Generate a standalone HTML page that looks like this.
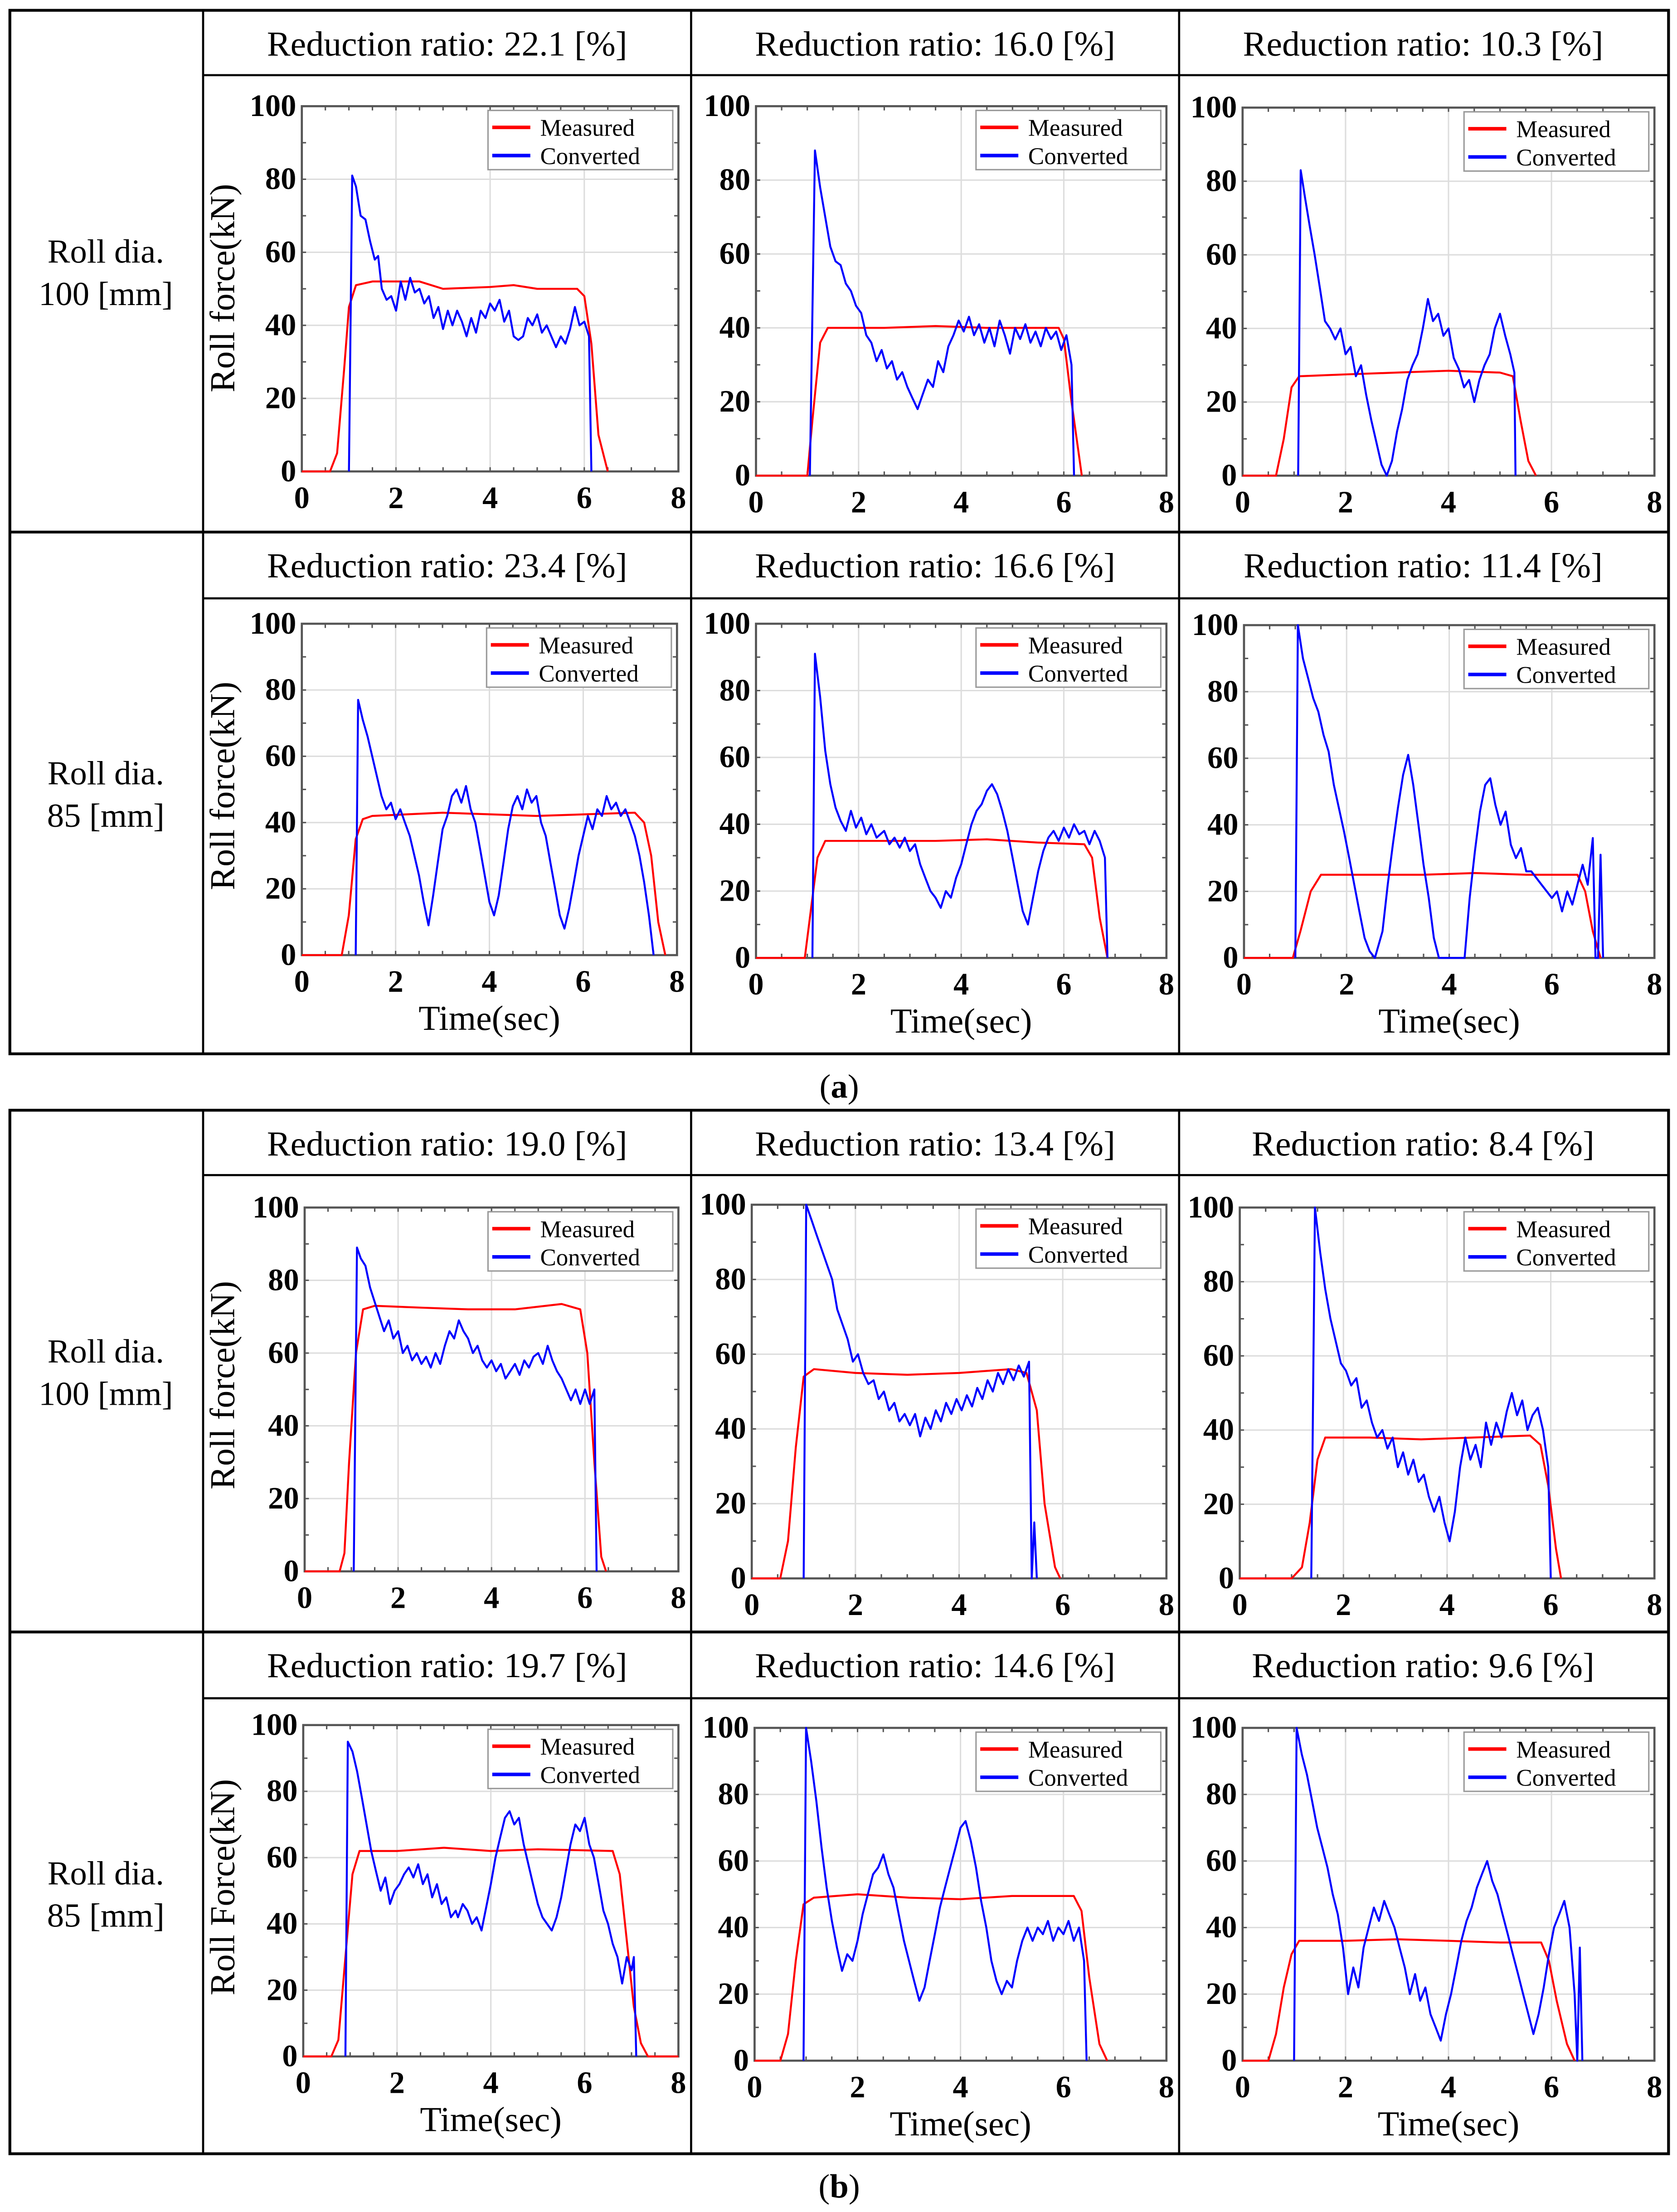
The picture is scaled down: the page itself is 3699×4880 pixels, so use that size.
<!DOCTYPE html>
<html><head><meta charset="utf-8">
<style>
html,body{margin:0;padding:0;background:#fff;}
svg{display:block;}
text{font-family:"Liberation Serif",serif;}
</style></head>
<body>
<svg id="fig" width="3699" height="4880" viewBox="0 0 1189 1568" xmlns="http://www.w3.org/2000/svg"></svg>
<script>
// ---- data: [time(sec), force(kN)] ----
const measuredA11=[[0,0],[0.6,0],[0.75,5],[0.9,28],[1.0,45],[1.15,51],[1.5,52],[2.5,52],[3.0,50],[4.0,50.5],[4.5,51],[5.0,50],[5.85,50],[6.0,48],[6.15,35],[6.3,10],[6.5,0]];
const convertedA11=[[1.0,0],[1.07,81],[1.15,78],[1.25,70],[1.35,69],[1.45,63],[1.55,58],[1.62,59],[1.7,50],[1.8,47],[1.9,48],[2.0,44],[2.1,52],[2.2,47],[2.3,53],[2.4,49],[2.5,50],[2.6,46],[2.7,48],[2.8,42],[2.9,45],[3.0,39],[3.1,44],[3.2,40],[3.3,44],[3.4,41],[3.5,37],[3.6,42],[3.7,38],[3.8,44],[3.9,42],[4.0,46],[4.1,44],[4.2,47],[4.3,41],[4.4,44],[4.5,37],[4.6,36],[4.7,37],[4.8,42],[4.9,40],[5.0,43],[5.1,38],[5.2,40],[5.3,37],[5.4,34],[5.5,37],[5.6,35],[5.7,39],[5.8,45],[5.9,40],[6.0,41],[6.1,37],[6.15,0]];
const measuredA12=[[0,0],[1.0,0],[1.1,15],[1.25,36],[1.4,40],[2.5,40],[3.5,40.5],[4.5,40],[5.5,40],[5.9,40],[6.0,37],[6.15,20],[6.35,0]];
const convertedA12=[[1.05,0],[1.15,88],[1.25,78],[1.35,70],[1.45,62],[1.55,58],[1.65,57],[1.75,52],[1.85,50],[1.95,46],[2.05,44],[2.15,38],[2.25,36],[2.35,31],[2.45,34],[2.55,29],[2.65,31],[2.75,26],[2.85,28],[2.95,24],[3.05,21],[3.15,18],[3.25,22],[3.35,26],[3.45,24],[3.55,31],[3.65,28],[3.75,35],[3.85,38],[3.95,42],[4.05,39],[4.15,43],[4.25,38],[4.35,41],[4.45,36],[4.55,40],[4.65,35],[4.75,42],[4.85,38],[4.95,33],[5.05,40],[5.15,37],[5.25,41],[5.35,36],[5.45,39],[5.55,35],[5.65,40],[5.75,37],[5.85,39],[5.95,34],[6.05,38],[6.15,30],[6.2,0]];
const measuredA13=[[0,0],[0.65,0],[0.8,10],[0.95,24],[1.1,27],[2,27.5],[3,28],[4,28.5],[5,28],[5.25,27],[5.4,15],[5.55,4],[5.7,0]];
const convertedA13=[[1.08,0],[1.13,83],[1.22,75],[1.3,68],[1.4,60],[1.5,51],[1.6,42],[1.7,40],[1.8,37],[1.9,40],[2.0,33],[2.1,35],[2.2,27],[2.3,30],[2.4,22],[2.5,15],[2.6,9],[2.7,3],[2.8,0],[2.9,4],[3.0,12],[3.1,18],[3.2,26],[3.3,30],[3.4,33],[3.5,40],[3.6,48],[3.7,42],[3.8,44],[3.9,38],[4.0,40],[4.1,32],[4.2,29],[4.3,24],[4.4,26],[4.5,20],[4.6,26],[4.7,30],[4.8,33],[4.9,40],[5.0,44],[5.1,38],[5.2,33],[5.28,28],[5.3,0]];
const measuredA21=[[0,0],[0.85,0],[1.0,12],[1.15,35],[1.3,41],[1.5,42],[3,43],[5,42],[7.1,43],[7.3,40],[7.45,30],[7.6,10],[7.75,0]];
const convertedA21=[[1.15,0],[1.2,77],[1.3,71],[1.4,66],[1.5,60],[1.6,54],[1.7,48],[1.8,44],[1.9,46],[2.0,41],[2.1,44],[2.2,40],[2.3,36],[2.4,30],[2.5,24],[2.6,16],[2.7,9],[2.8,18],[2.9,28],[3.0,38],[3.1,42],[3.2,48],[3.3,50],[3.4,46],[3.5,51],[3.6,44],[3.7,40],[3.8,32],[3.9,24],[4.0,16],[4.1,12],[4.2,18],[4.3,28],[4.4,38],[4.5,45],[4.6,48],[4.7,44],[4.8,50],[4.9,46],[5.0,48],[5.1,40],[5.2,36],[5.3,28],[5.4,20],[5.5,12],[5.6,8],[5.7,14],[5.8,22],[5.9,30],[6.0,36],[6.1,42],[6.2,38],[6.3,44],[6.4,42],[6.5,48],[6.6,44],[6.7,46],[6.8,42],[6.9,44],[7.0,40],[7.1,36],[7.2,30],[7.3,22],[7.4,12],[7.5,0]];
const measuredA22=[[0,0],[0.95,0],[1.05,12],[1.2,30],[1.35,35],[2.5,35],[3.5,35],[4.5,35.5],[5.5,34.5],[6.4,34],[6.55,30],[6.7,12],[6.85,0]];
const convertedA22=[[1.1,0],[1.15,91],[1.25,78],[1.35,62],[1.45,52],[1.55,45],[1.65,41],[1.75,38],[1.85,44],[1.95,39],[2.05,42],[2.15,37],[2.25,40],[2.35,36],[2.5,38],[2.6,34],[2.7,36],[2.8,33],[2.9,36],[3.0,32],[3.1,34],[3.2,28],[3.3,24],[3.4,20],[3.5,18],[3.6,15],[3.7,20],[3.8,18],[3.9,24],[4.0,28],[4.1,34],[4.2,40],[4.3,44],[4.4,46],[4.5,50],[4.6,52],[4.7,49],[4.8,44],[4.9,38],[5.0,30],[5.1,22],[5.2,14],[5.3,10],[5.4,18],[5.5,26],[5.6,32],[5.7,36],[5.8,38],[5.9,35],[6.0,39],[6.1,36],[6.2,40],[6.3,37],[6.4,38],[6.5,34],[6.6,38],[6.7,35],[6.8,30],[6.85,0]];
const measuredA23=[[0,0],[0.95,0],[1.1,8],[1.3,20],[1.5,25],[2.5,25],[3.5,25],[4.5,25.5],[5.5,25],[6.5,25],[6.65,20],[6.8,8],[6.95,0]];
const convertedA23=[[1.0,0],[1.05,100],[1.15,90],[1.25,84],[1.35,78],[1.45,74],[1.55,67],[1.65,62],[1.75,52],[1.85,45],[1.95,38],[2.05,30],[2.15,22],[2.25,14],[2.35,6],[2.45,2],[2.55,0],[2.7,8],[2.8,22],[2.9,34],[3.0,45],[3.1,55],[3.2,61],[3.3,52],[3.4,40],[3.5,28],[3.6,18],[3.7,6],[3.8,0],[4.3,0],[4.4,18],[4.5,32],[4.6,44],[4.7,52],[4.8,54],[4.9,46],[5.0,40],[5.1,44],[5.2,34],[5.3,30],[5.4,33],[5.5,26],[5.6,26],[5.8,22],[6.0,18],[6.1,20],[6.2,14],[6.3,20],[6.4,16],[6.5,22],[6.6,28],[6.7,22],[6.8,36],[6.85,0],[6.9,0],[6.95,31],[7.0,0]];
const measuredB11=[[0,0],[0.75,0],[0.85,5],[0.95,30],[1.1,60],[1.25,72],[1.5,73],[2.5,72.5],[3.5,72],[4.5,72],[5.5,73.5],[5.9,72],[6.05,60],[6.2,30],[6.35,4],[6.45,0]];
const convertedB11=[[1.05,0],[1.12,89],[1.2,86],[1.3,84],[1.4,78],[1.5,74],[1.6,70],[1.7,66],[1.8,69],[1.9,64],[2.0,66],[2.1,60],[2.2,62],[2.3,58],[2.4,60],[2.5,57],[2.6,59],[2.7,56],[2.8,60],[2.9,57],[3.0,62],[3.1,66],[3.2,64],[3.3,69],[3.4,66],[3.5,64],[3.6,60],[3.7,62],[3.8,58],[3.9,56],[4.0,58],[4.1,55],[4.2,57],[4.3,53],[4.4,55],[4.5,57],[4.6,54],[4.7,58],[4.8,56],[4.9,59],[5.0,60],[5.1,57],[5.2,62],[5.3,58],[5.4,55],[5.5,53],[5.6,50],[5.7,47],[5.8,50],[5.9,46],[6.0,50],[6.1,46],[6.2,50],[6.25,0]];
const measuredB12=[[0,0],[0.55,0],[0.7,10],[0.85,35],[1.0,54],[1.2,56],[2,55],[3,54.5],[4,55],[5,56],[5.3,55],[5.5,45],[5.65,20],[5.85,3],[5.95,0]];
const convertedB12=[[1.0,0],[1.05,100],[1.15,96],[1.25,92],[1.35,88],[1.45,84],[1.55,80],[1.65,72],[1.75,68],[1.85,64],[1.95,58],[2.05,60],[2.15,55],[2.25,52],[2.35,53],[2.45,48],[2.55,50],[2.65,45],[2.75,47],[2.85,42],[2.95,44],[3.05,41],[3.15,44],[3.25,38],[3.35,43],[3.45,40],[3.55,45],[3.65,42],[3.75,47],[3.85,44],[3.95,48],[4.05,45],[4.15,49],[4.25,46],[4.35,51],[4.45,48],[4.55,53],[4.65,50],[4.75,55],[4.85,52],[4.95,56],[5.05,53],[5.15,57],[5.25,54],[5.35,58],[5.4,0],[5.45,15],[5.5,0]];
const measuredB13=[[0,0],[1.0,0],[1.2,3],[1.35,15],[1.5,32],[1.65,38],[2.5,38],[3.5,37.5],[4.5,38],[5.6,38.5],[5.8,36],[5.95,25],[6.1,8],[6.2,0]];
const convertedB13=[[1.38,0],[1.45,100],[1.55,88],[1.65,78],[1.75,70],[1.85,64],[1.95,58],[2.05,56],[2.15,52],[2.25,54],[2.35,46],[2.45,48],[2.55,42],[2.65,38],[2.75,40],[2.85,35],[2.95,38],[3.05,30],[3.15,34],[3.25,28],[3.35,32],[3.45,26],[3.55,28],[3.65,22],[3.75,18],[3.85,22],[3.95,15],[4.05,10],[4.15,18],[4.25,30],[4.35,38],[4.45,32],[4.55,36],[4.65,30],[4.75,42],[4.85,36],[4.95,42],[5.05,38],[5.15,45],[5.25,50],[5.35,44],[5.45,48],[5.55,40],[5.65,44],[5.75,46],[5.85,40],[5.95,30],[6.0,0]];
const measuredB21=[[0,0],[0.6,0],[0.75,5],[0.9,30],[1.05,55],[1.2,62],[2,62],[3,63],[4,62],[5,62.5],[6.6,62],[6.75,55],[6.9,35],[7.05,15],[7.2,4],[7.35,0],[8,0]];
const convertedB21=[[0.9,0],[0.95,95],[1.05,92],[1.15,86],[1.25,78],[1.35,70],[1.45,62],[1.55,56],[1.65,50],[1.75,54],[1.85,46],[1.95,50],[2.05,52],[2.15,55],[2.25,57],[2.35,54],[2.45,58],[2.55,52],[2.65,55],[2.75,48],[2.85,52],[2.95,46],[3.05,48],[3.15,42],[3.25,44],[3.3,42],[3.4,46],[3.5,44],[3.6,40],[3.7,42],[3.8,38],[3.9,45],[4.0,52],[4.1,60],[4.2,66],[4.3,72],[4.4,74],[4.5,70],[4.6,72],[4.7,64],[4.8,58],[4.9,52],[5.0,46],[5.1,42],[5.2,40],[5.3,38],[5.4,42],[5.5,48],[5.6,56],[5.7,64],[5.8,70],[5.9,68],[6.0,72],[6.1,64],[6.2,60],[6.3,52],[6.4,44],[6.5,40],[6.6,34],[6.7,30],[6.8,22],[6.9,30],[7.0,26],[7.05,30],[7.1,0]];
const measuredB22=[[0,0],[0.5,0],[0.65,8],[0.8,30],[0.95,47],[1.15,49],[2,50],[3,49],[4,48.5],[5,49.5],[6.2,49.5],[6.35,45],[6.5,25],[6.7,5],[6.85,0]];
const convertedB22=[[0.95,0],[1.0,100],[1.1,90],[1.2,78],[1.3,64],[1.4,52],[1.5,42],[1.6,34],[1.7,27],[1.8,32],[1.9,30],[2.0,36],[2.1,44],[2.2,50],[2.3,56],[2.4,58],[2.5,62],[2.6,56],[2.7,52],[2.8,44],[2.9,36],[3.0,30],[3.1,24],[3.2,18],[3.3,22],[3.4,30],[3.5,38],[3.6,46],[3.7,52],[3.8,58],[3.9,64],[4.0,70],[4.1,72],[4.2,66],[4.3,58],[4.4,48],[4.5,40],[4.6,30],[4.7,24],[4.8,20],[4.9,24],[5.0,22],[5.1,30],[5.2,36],[5.3,40],[5.4,36],[5.5,40],[5.6,38],[5.7,42],[5.8,36],[5.9,40],[6.0,38],[6.1,42],[6.2,36],[6.3,40],[6.4,30],[6.45,0]];
const measuredB23=[[0,0],[0.5,0],[0.65,8],[0.8,22],[0.95,32],[1.1,36],[2,36],[3,36.5],[4,36],[5,35.5],[5.8,35.5],[5.95,30],[6.1,18],[6.3,5],[6.45,0]];
const convertedB23=[[1.0,0],[1.05,100],[1.15,92],[1.25,86],[1.35,78],[1.45,70],[1.55,64],[1.65,58],[1.75,50],[1.85,44],[1.95,34],[2.05,20],[2.15,28],[2.25,22],[2.35,34],[2.45,40],[2.55,46],[2.65,42],[2.75,48],[2.85,44],[2.95,40],[3.05,34],[3.15,28],[3.25,20],[3.35,26],[3.45,18],[3.55,22],[3.65,14],[3.75,10],[3.85,6],[3.95,14],[4.05,20],[4.15,28],[4.25,36],[4.35,42],[4.45,46],[4.55,52],[4.65,56],[4.75,60],[4.85,54],[4.95,50],[5.05,44],[5.15,38],[5.25,32],[5.35,26],[5.45,20],[5.55,14],[5.65,8],[5.75,14],[5.85,22],[5.95,32],[6.05,40],[6.15,44],[6.25,48],[6.35,40],[6.45,20],[6.5,0],[6.55,34],[6.6,0]];
const titles=["22.1","16.0","10.3","23.4","16.6","11.4","19.0","13.4","8.4","19.7","14.6","9.6"];
const xTicks=["0","2","4","6","8"];
const yTicks=["0","20","40","60","80","100"];

const NS="http://www.w3.org/2000/svg";
const svg=document.getElementById('fig');
function mk(tag,attrs,parent){const e=document.createElementNS(NS,tag);for(const k in attrs)e.setAttribute(k,attrs[k]);(parent||svg).appendChild(e);return e;}
function txt(s,attrs,parent){const e=mk('text',attrs,parent);e.textContent=s;return e;}

const panels=[
 {b:[214,481,75,334],m:measuredA11,c:convertedA11,tx:0},
 {b:[536,827,75,337],m:measuredA12,c:convertedA12,tx:0},
 {b:[881,1173,76,337],m:measuredA13,c:convertedA13,tx:0},
 {b:[214,480,442,677],m:measuredA21,c:convertedA21,tx:1},
 {b:[536,827,442,679],m:measuredA22,c:convertedA22,tx:1},
 {b:[882,1173,443,679],m:measuredA23,c:convertedA23,tx:1},
 {b:[216,481,856,1114],m:measuredB11,c:convertedB11,tx:0},
 {b:[533,827,854,1119],m:measuredB12,c:convertedB12,tx:0},
 {b:[879,1173,856,1119],m:measuredB13,c:convertedB13,tx:0},
 {b:[215,481,1223,1458],m:measuredB21,c:convertedB21,tx:1},
 {b:[535,827,1225,1461],m:measuredB22,c:convertedB22,tx:1},
 {b:[881,1173,1225,1461],m:measuredB23,c:convertedB23,tx:1}
];

function table(y0,yMid,y1,h1,h2,name){
  const g=mk('g',{});
  
  
  mk('rect',{x:7,y:y0,width:1176,height:y1-y0,fill:'none',stroke:'#000','stroke-width':2},g);
  mk('line',{x1:7,y1:yMid,x2:1183,y2:yMid,stroke:'#000','stroke-width':2},g);
  [144,490,836].forEach(x=>mk('line',{x1:x,y1:y0,x2:x,y2:y1,stroke:'#000','stroke-width':1.5},g));
  mk('line',{x1:144,y1:h1,x2:1183,y2:h1,stroke:'#000','stroke-width':1.5},g);
  mk('line',{x1:144,y1:h2,x2:1183,y2:h2,stroke:'#000','stroke-width':1.5},g);
}
table(7,377,747,53,424,'table-a');
table(787,1157,1527,833,1204,'table-b');
const cap1=mk('text',{x:595,y:778,'font-size':24,'text-anchor':'middle'});
cap1.innerHTML='(<tspan font-weight="bold">a</tspan>)';


const cap2=mk('text',{x:595,y:1558,'font-size':24,'text-anchor':'middle'});
cap2.innerHTML='(<tspan font-weight="bold">b</tspan>)';


[[186,216,'100 [mm]'],[556,586,'85 [mm]'],[966,996,'100 [mm]'],[1336,1366,'85 [mm]']].forEach((r,i)=>{
  const t1=txt('Roll dia.',{x:75,y:r[0],'font-size':24,'text-anchor':'middle'});
  
  
  const t2=txt(r[2],{x:75,y:r[1],'font-size':24,'text-anchor':'middle'});
  
  
});
const titleY=[39,39,39,409,409,409,819,819,819,1189,1189,1189];
const ylabY=[[166,204],[166,557],[166,982],[166,1338]];
ylabY.forEach((p,i)=>{
  const s=i===3?'Roll Force(kN)':'Roll force(kN)';
  const t=txt(s,{x:p[0],y:p[1],'font-size':25,'text-anchor':'middle',transform:`rotate(-90 ${p[0]} ${p[1]})`});
  
  
});

panels.forEach((p,i)=>{
  const [x0,x1,yt,yb]=p.b;
  const sx=t=>x0+(t/8)*(x1-x0);
  const sy=v=>yb-(v/100)*(yb-yt);
  const cx=[317,663,1009][i%3];
  const tt=txt('Reduction ratio: '+titles[i]+' [%]',{x:cx,y:titleY[i],'font-size':25,'text-anchor':'middle'});
  
  
  const g=mk('g',{});
  
  
  for(let k=1;k<4;k++){mk('line',{x1:sx(k*2),y1:yt,x2:sx(k*2),y2:yb,stroke:'#ddd','stroke-width':1},g);}
  for(let k=1;k<5;k++){mk('line',{x1:x0,y1:sy(k*20),x2:x1,y2:sy(k*20),stroke:'#ddd','stroke-width':1},g);}
  for(let k=1;k<16;k++){const x=sx(k*0.5);mk('line',{x1:x,y1:yb,x2:x,y2:yb-3,stroke:'#555'},g);mk('line',{x1:x,y1:yt,x2:x,y2:yt+3,stroke:'#555'},g);}
  for(let k=1;k<10;k++){const y=sy(k*10);mk('line',{x1:x0,y1:y,x2:x0+3,y2:y,stroke:'#555'},g);mk('line',{x1:x1,y1:y,x2:x1-3,y2:y,stroke:'#555'},g);}
  mk('rect',{x:x0,y:yt,width:x1-x0,height:yb-yt,fill:'none',stroke:'#555','stroke-width':1.5},g);
  xTicks.forEach((s,k)=>{const t=txt(s,{x:sx(k*2),y:yb+26,'font-size':22,'font-weight':'bold','text-anchor':'middle'},g);
    
    });
  yTicks.forEach((s,k)=>{const t=txt(s,{x:x0-4,y:sy(k*20)+7,'font-size':22,'font-weight':'bold','text-anchor':'end'},g);
    
    });
  if(p.tx){const t=txt('Time(sec)',{x:(x0+x1)/2,y:yb+53,'font-size':25,'text-anchor':'middle'},g);
    
    }
  const line=(arr,col,name)=>{const pl=mk('polyline',{points:arr.map(d=>sx(d[0]).toFixed(1)+','+sy(Math.min(d[1],100)).toFixed(1)).join(' '),fill:'none',stroke:col,'stroke-width':1.4,'stroke-linejoin':'round'},g);
    
    };
  line(p.m,'#ff0000','measured-line');
  line(p.c,'#0000ff','converted-line');
  const lg=mk('g',{},g);
  
  
  const lx=x1-135, ly=yt+3;
  mk('rect',{x:lx,y:ly,width:131,height:42,fill:'#fff',stroke:'#999','stroke-width':1},lg);
  mk('line',{x1:lx+3,y1:ly+12,x2:lx+30,y2:ly+12,stroke:'#ff0000','stroke-width':2.5},lg);
  mk('line',{x1:lx+3,y1:ly+32,x2:lx+30,y2:ly+32,stroke:'#0000ff','stroke-width':2.5},lg);
  const l1=txt('Measured',{x:lx+37,y:ly+18,'font-size':17},lg);
  
  
  const l2=txt('Converted',{x:lx+37,y:ly+38,'font-size':17},lg);
  
  
});
</script>
</body></html>
